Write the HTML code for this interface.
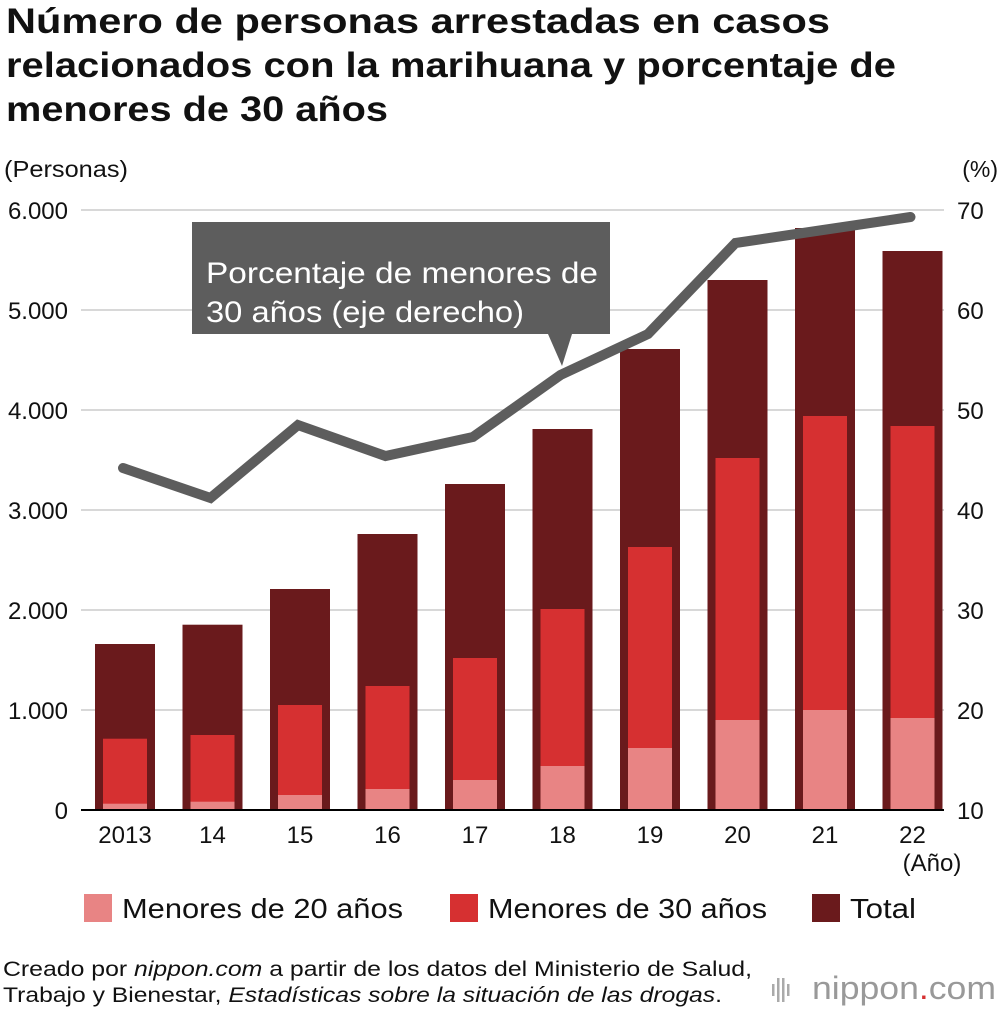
<!DOCTYPE html>
<html><head><meta charset="utf-8"><style>
body{margin:0;background:#fff;font-family:"Liberation Sans",Arial,sans-serif;}
#wrap{position:relative;width:1000px;height:1010px;overflow:hidden;}
</style></head><body>
<div id="wrap">
<svg id="chart" width="1000" height="1010" xmlns="http://www.w3.org/2000/svg" font-family="Liberation Sans, Arial, sans-serif"></svg>
</div>
<script>
const categories=["2013","14","15","16","17","18","19","20","21","22"];
const totalValues=[1660,1853,2210,2760,3260,3810,4610,5300,5820,5590];
const under30Values=[713,750,1050,1240,1520,2010,2630,3520,3940,3840];
const under20Values=[63,83,150,210,300,440,620,900,1000,920];
const pctValues=[44.2,41.2,48.5,45.4,47.3,53.5,57.6,66.7,68,69.3];
const leftTicks=[0,1000,2000,3000,4000,5000,6000];
const leftTickLabels=["0","1.000","2.000","3.000","4.000","5.000","6.000"];
const rightTicks=[10,20,30,40,50,60,70];

const svg=document.getElementById('chart');
const NS='http://www.w3.org/2000/svg';
function mk(tag,attrs,parent){const e=document.createElementNS(NS,tag);for(const k in attrs)e.setAttribute(k,attrs[k]);(parent||svg).appendChild(e);return e;}
function yL(v){return 810-v*0.1;}
function yR(v){return 810-(v-10)*10;}
function xC(i){return 125+i*87.5;}

// title
const titleLines=[["Número de personas arrestadas en casos",824],["relacionados con la marihuana y porcentaje de",890],["menores de 30 años",382]];
titleLines.forEach((t,i)=>{const e=mk('text',{x:6,y:33+i*44,'font-size':35,'font-weight':'bold',fill:'#111',textLength:t[1],lengthAdjust:'spacingAndGlyphs'});e.textContent=t[0];

});
let e=mk('text',{x:4,y:177,'font-size':23,fill:'#111',textLength:124,lengthAdjust:'spacingAndGlyphs'});e.textContent='(Personas)';


e=mk('text',{x:998,y:177,'font-size':23,fill:'#111','text-anchor':'end'});e.textContent='(%)';



// gridlines & ticks
leftTicks.forEach((v,i)=>{
 if(v>0){const g=mk('line',{x1:81,x2:944,y1:yL(v),y2:yL(v),stroke:'#cccccc','stroke-width':1.5});
 
 }
 const t=mk('text',{x:68,y:yL(v)+9,'font-size':24,'text-anchor':'end',fill:'#111'});t.textContent=leftTickLabels[i];
 
 
});
rightTicks.forEach(v=>{
 const t=mk('text',{x:957,y:yR(v)+9,'font-size':24,fill:'#111'});t.textContent=String(v);
 
 
});

// bars
categories.forEach((c,i)=>{
 const x=xC(i);
 let r=mk('rect',{x:x-30,y:yL(totalValues[i]),width:60,height:totalValues[i]*0.1,fill:'#6a1a1c'});
 
 
 r=mk('rect',{x:x-22,y:yL(under30Values[i]),width:44,height:under30Values[i]*0.1,fill:'#d63031'});
 
 
 r=mk('rect',{x:x-22,y:yL(under20Values[i]),width:44,height:under20Values[i]*0.1,fill:'#e88484'});
 
 
 const t=mk('text',{x:x,y:843,'font-size':24,'text-anchor':'middle',fill:'#111'});t.textContent=c;
 
 
});
e=mk('line',{x1:81,x2:944,y1:810,y2:810,stroke:'#000','stroke-width':2});


e=mk('text',{x:932,y:871,'font-size':24,'text-anchor':'middle',fill:'#111'});e.textContent='(Año)';



// line
const pts=pctValues.map((v,i)=>(xC(i)-2)+','+yR(v)).join(' ');
e=mk('polyline',{points:pts,fill:'none',stroke:'#5d5d5d','stroke-width':10,'stroke-linejoin':'miter','stroke-linecap':'round'});



// callout
e=mk('path',{d:'M192 222 H610 V334 H572 L562 366 L548 334 H192 Z',fill:'#5d5d5d'});


[['Porcentaje de menores de',392],['30 años (eje derecho)',318]].forEach((t,i)=>{const x=mk('text',{x:206,y:283+i*39,'font-size':30,fill:'#fff',textLength:t[1],lengthAdjust:'spacingAndGlyphs'});x.textContent=t[0];

});

// legend
const leg=[['#e88484','Menores de 20 años',84,281],['#d63031','Menores de 30 años',450,279],['#6a1a1c','Total',812,66]];
leg.forEach(l=>{
 const r=mk('rect',{x:l[2],y:894,width:28,height:28,fill:l[0]});
 
 
 const t=mk('text',{x:l[2]+38,y:918,'font-size':28,fill:'#111',textLength:l[3],lengthAdjust:'spacingAndGlyphs'});t.textContent=l[1];
 
 
});

// footer
e=mk('text',{x:3,y:976,'font-size':21,fill:'#111',textLength:749,lengthAdjust:'spacingAndGlyphs'});
e.innerHTML='Creado por <tspan font-style="italic">nippon.com</tspan> a partir de los datos del Ministerio de Salud,';


e=mk('text',{x:3,y:1002,'font-size':21,fill:'#111',textLength:719,lengthAdjust:'spacingAndGlyphs'});
e.innerHTML='Trabajo y Bienestar, <tspan font-style="italic">Estadísticas sobre la situación de las drogas</tspan>.';


// logo
for(let k=0;k<4;k++){const b=mk('rect',{x:772+k*5,y:k%3==0?984:978,width:2.5,height:k%3==0?12:24,fill:'#aaa'});

}
e=mk('text',{x:996,y:999,'font-size':32,fill:'#999','text-anchor':'end',textLength:184,lengthAdjust:'spacingAndGlyphs'});
e.innerHTML='nippon<tspan fill="#d63031">.</tspan>com';


</script>
</body></html>
